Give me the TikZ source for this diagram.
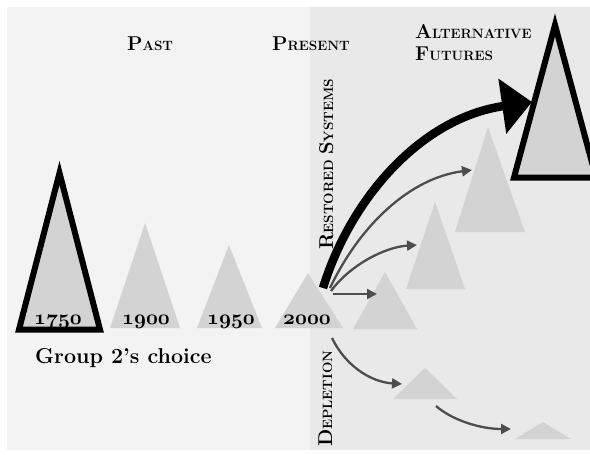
\documentclass[tikz,border=0pt]{standalone}
\usetikzlibrary{arrows.meta}

\definecolor{panelL}{HTML}{F3F3F3}
\definecolor{panelR}{HTML}{E9E9E9}
\definecolor{trigray}{HTML}{D3D3D3}
\definecolor{arrowgray}{HTML}{4D4D4D}

% hand-made small capitals: large initial, smaller capitals after it
\newcommand\bigsc[2]{{\fontsize{20}{20}\selectfont #1}{\fontsize{13.5}{13.5}\selectfont #2}}
% bold old-style figures for the years
\newcommand\yearnum[1]{{\fontsize{20.74}{20.74}\usefont{OML}{cmm}{b}{it}#1}}

\begin{document}
\begin{tikzpicture}[x=1pt,y=-1pt,
  tri/.style={fill=trigray},
  keytri/.style={fill=trigray,draw=black,line width=6pt,line join=miter},
  flow/.style={draw=arrowgray,line width=2.3pt,-{Triangle[length=10pt,width=10pt]}},
  mainflow/.style={draw=black,line width=8.5pt,-{Triangle[length=30pt,width=54pt]}},
  head/.style={anchor=base west,inner sep=0pt,font=\bfseries},
  axis/.style={anchor=base west,inner sep=0pt,rotate=90,font=\bfseries},
  year/.style={anchor=base,inner sep=0pt}]
\useasboundingbox (0,0) rectangle (590,455);

% background panels: past on the left, futures on the right
\fill[white] (0,0) rectangle (590,455);
\fill[panelL] (7,7) rectangle (590,450);
\fill[panelR] (310,7) rectangle (590,450);

\begin{scope}
\clip (0,0) rectangle (590,455);
% past and present
\fill[tri] (145,223) -- (110,328) -- (180,328) -- cycle;
\fill[tri] (229,245) -- (197,328) -- (262,328) -- cycle;
\fill[tri] (308,273) -- (275,328) -- (343,328) -- cycle;
% restored systems
\fill[tri] (385,272) -- (353,329) -- (417,329) -- cycle;
\fill[tri] (435,202) -- (406,289) -- (465,289) -- cycle;
\fill[tri] (488,127) -- (455,232) -- (525,232) -- cycle;
% depletion
\fill[tri] (425,368) -- (393,399) -- (457,399) -- cycle;
\fill[tri] (543,422) -- (515,439) -- (571,439) -- cycle;
% chosen states
\draw[keytri] (59.5,173) -- (19,329.5) -- (100,329.5) -- cycle;
\draw[keytri] (555,25) -- (514,177.5) -- (596,177.5) -- cycle;
\end{scope}

% connectors
\coordinate (src) at (323,288);
\coordinate (goal) at (532,102);
\draw[mainflow] (src) .. controls (350,200) and (420,118) .. (goal);

\coordinate (g0) at (330,288);
\coordinate (g1) at (472,170);
\draw[flow] (g0) .. controls (360,225) and (410,178) .. (g1);
\coordinate (h0) at (331,291);
\coordinate (h1) at (417,245);
\draw[flow] (h0) .. controls (350,265) and (385,247) .. (h1);
\coordinate (k0) at (333,294);
\coordinate (k1) at (377,294);
\draw[flow] (k0) -- (k1);
\coordinate (d0) at (332,338);
\coordinate (d1) at (402,384);
\draw[flow] (d0) .. controls (345,365) and (370,382) .. (d1);
\coordinate (e0) at (436,406);
\coordinate (e1) at (511,429);
\draw[flow] (e0) .. controls (452,420) and (480,429) .. (e1);

% headings
\node[head] (past) at (127,50) {\bigsc{P}{AST}};
\node[head] (present) at (272,50) {\bigsc{P}{RESENT}};
\node[head] (alt) at (415,38) {\bigsc{A}{LTERNATIVE}};
\node[head] (fut) at (415,60) {\bigsc{F}{UTURES}};
\node[axis] (restored) at (333,250) {\bigsc{R}{ESTORED}\hspace{5pt}\bigsc{S}{YSTEMS}};
\node[axis] (depl) at (332,447) {\bigsc{D}{EPLETION}};

% years
\node[year] (y1750) at (58,324) {\yearnum{1750}};
\node[year] (y1900) at (146,324) {\yearnum{1900}};
\node[year] (y1950) at (231,324) {\yearnum{1950}};
\node[year] (y2000) at (307,324) {\yearnum{2000}};

\node[head,font=\bfseries\fontsize{21.5}{21.5}\selectfont] (choice) at (35,363) {Group 2’s choice};
\end{tikzpicture}
\end{document}
